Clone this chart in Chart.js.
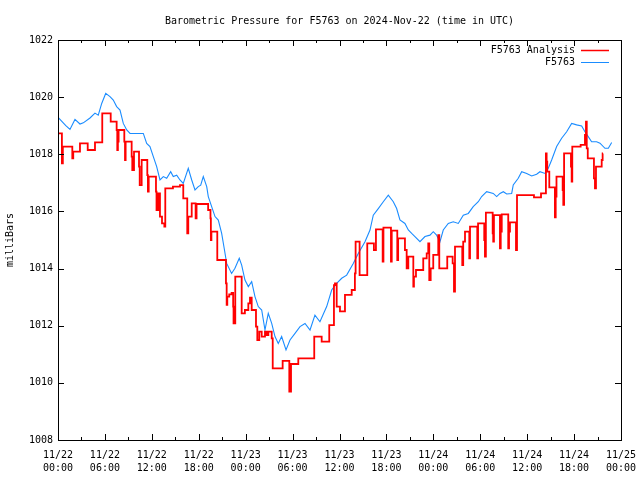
<!DOCTYPE html>
<html><head><meta charset="utf-8">
<script src="https://cdn.jsdelivr.net/npm/chart.js@4/dist/chart.umd.min.js"></script>
<style>html,body{margin:0;padding:0;background:#fff;} #wrap{width:640px;height:480px;}</style>
</head><body><div id="wrap"><canvas id="c" width="640" height="480"></canvas></div>
<script>
// x values are hours since 2024-11-22 00:00 UTC
const tickDates = ['11/22','11/22','11/22','11/22','11/23','11/23','11/23','11/23','11/24','11/24','11/24','11/24','11/25'];
const tickTimes = ['00:00','06:00','12:00','18:00','00:00','06:00','12:00','18:00','00:00','06:00','12:00','18:00','00:00'];
const yTicks = [1008,1010,1012,1014,1016,1018,1020,1022];

const analysisHours = [0,0.5,0.62,1.83,1.95,2.81,3.8,4.73,5.66,6.74,7.5,7.58,7.66,7.75,8.48,8.57,8.65,9.42,9.5,9.72,10.36,10.45,10.7,11.42,11.5,11.6,12.53,12.6,12.83,13.04,13.3,13.6,13.72,14.7,15.6,16.02,16.53,16.66,17.1,17.6,17.72,19.2,19.5,19.55,19.62,20.37,21.48,21.57,21.65,21.9,22.2,22.4,22.45,22.67,23.49,23.9,24.34,24.55,24.77,25.32,25.49,25.74,26.05,26.47,26.69,26.9,27.33,27.46,28.73,29.58,29.8,30.73,32.77,33.72,34.69,35.29,35.42,35.64,36.06,36.7,37.56,37.97,38.06,38.57,39.55,40.4,40.66,41.52,41.62,42.58,42.68,43.39,43.5,44.37,44.59,44.8,45.44,45.52,45.78,46.71,47.15,47.35,47.48,47.66,47.99,48.63,48.76,49.78,50.47,50.64,50.77,51.7,51.82,52.05,52.6,52.69,53.62,53.72,54.51,54.6,54.72,55.59,55.66,55.75,56.52,56.62,56.75,57.58,57.68,57.8,58.57,58.7,60.87,61.77,62.4,62.49,62.57,62.83,63.55,63.65,63.75,64.54,64.62,64.72,65.6,65.69,65.77,66.84,67.39,67.52,67.62,67.75,68.54,68.67,68.8,69.53,69.65,69.7];
const analysisValues = [1018.73,1017.68,1018.27,1017.86,1018.09,1018.38,1018.15,1018.42,1019.43,1019.14,1018.85,1018.15,1018.44,1018.85,1018.44,1017.8,1018.44,1017.92,1017.45,1018.09,1017.57,1016.92,1017.8,1017.27,1016.69,1017.22,1016.69,1016.05,1016.63,1015.82,1015.58,1015.47,1016.81,1016.87,1016.92,1016.46,1015.23,1015.82,1016.28,1015.76,1016.26,1016.05,1015.76,1015.0,1015.29,1014.3,1013.48,1012.73,1013.02,1013.1,1013.15,1012.67,1012.08,1013.72,1012.43,1012.55,1012.78,1012.98,1012.55,1011.97,1011.5,1011.79,1011.62,1011.79,1011.67,1011.79,1011.56,1010.51,1010.77,1009.69,1010.66,1010.86,1011.62,1011.44,1012.02,1013.42,1013.48,1012.67,1012.5,1013.08,1013.25,1013.83,1014.94,1013.77,1014.88,1014.65,1015.37,1014.24,1015.43,1014.24,1015.33,1014.3,1015.06,1014.65,1014.01,1014.42,1013.37,1013.72,1013.95,1014.36,1014.53,1014.88,1013.6,1014.01,1014.48,1015.17,1014.01,1014.42,1014.18,1013.19,1014.77,1014.12,1014.94,1015.29,1014.36,1015.47,1014.36,1015.58,1015.0,1014.42,1015.96,1015.23,1014.94,1015.87,1014.71,1015.29,1015.9,1014.71,1015.29,1015.62,1014.65,1016.57,1016.49,1016.63,1018.03,1017.74,1017.39,1016.84,1015.79,1016.52,1017.22,1016.75,1016.23,1018.03,1017.57,1017.04,1018.27,1018.33,1018.68,1019.14,1018.21,1017.86,1017.16,1016.81,1017.57,1017.8,1018.03,1018.03];

const stationHours = [0,0.13,1.0,1.53,2.17,2.81,3.24,4.09,4.73,5.15,5.59,6.1,6.65,7.07,7.5,7.93,8.35,8.79,9.21,10.91,11.34,11.76,12.19,12.62,13.04,13.47,13.9,14.41,14.74,15.18,15.6,16.02,16.66,17.1,17.52,17.94,18.25,18.58,19.02,19.22,19.65,20.08,20.5,20.93,21.29,21.57,22.2,22.63,23.18,23.49,23.91,24.34,24.77,25.19,25.61,26.05,26.47,26.89,27.33,27.75,28.17,28.6,29.16,29.67,30.31,30.95,31.59,32.23,32.86,33.5,34.36,35.0,35.64,36.28,36.92,37.76,38.4,39.26,39.9,40.32,40.96,41.6,42.24,42.88,43.31,43.73,44.37,44.8,45.23,45.65,46.29,46.93,47.57,47.99,48.42,48.85,49.27,49.91,50.55,51.19,51.83,52.47,53.1,53.75,54.18,54.82,55.66,56.1,56.52,56.95,57.38,58.02,58.22,58.86,59.3,59.94,60.58,61.21,61.64,62.28,62.7,63.13,63.77,64.41,65.05,65.69,66.33,66.97,67.39,67.81,68.24,68.88,69.31,69.95,70.38,70.81];
const stationValues = [1019.3,1019.26,1019.0,1018.87,1019.22,1019.06,1019.1,1019.27,1019.44,1019.37,1019.78,1020.13,1020.02,1019.9,1019.67,1019.55,1019.08,1018.85,1018.73,1018.73,1018.38,1018.27,1017.92,1017.57,1017.1,1017.22,1017.16,1017.39,1017.22,1017.27,1017.1,1016.98,1017.51,1017.1,1016.75,1016.87,1016.92,1017.22,1016.87,1016.52,1016.17,1015.82,1015.7,1015.23,1014.65,1014.18,1013.83,1014.01,1014.36,1014.12,1013.6,1013.37,1013.54,1013.02,1012.67,1012.55,1011.85,1012.43,1012.08,1011.62,1011.38,1011.62,1011.15,1011.5,1011.73,1011.97,1012.08,1011.85,1012.37,1012.14,1012.67,1013.25,1013.48,1013.66,1013.77,1014.18,1014.53,1014.94,1015.35,1015.87,1016.1,1016.34,1016.57,1016.34,1016.1,1015.7,1015.58,1015.35,1015.23,1015.12,1014.94,1015.12,1015.17,1015.29,1015.17,1014.94,1015.35,1015.58,1015.64,1015.58,1015.87,1015.93,1016.17,1016.34,1016.52,1016.69,1016.63,1016.52,1016.63,1016.69,1016.61,1016.63,1016.93,1017.16,1017.39,1017.33,1017.24,1017.3,1017.39,1017.33,1017.51,1017.8,1018.27,1018.56,1018.79,1019.08,1019.03,1018.99,1018.79,1018.62,1018.44,1018.44,1018.39,1018.21,1018.21,1018.41];

const FONT = 'DejaVu Sans Mono';

const framePlugin = {
  id: 'frame',
  afterDatasetsDraw(chart) {
    const {ctx, chartArea: a, scales} = chart;
    ctx.save();
    ctx.strokeStyle = '#000';
    ctx.lineWidth = 1;
    ctx.strokeRect(a.left + 0.5, a.top + 0.5, a.right - a.left, a.bottom - a.top);
    ctx.beginPath();
    for (let h = 0; h <= 72; h += 3) {
      const x = Math.round(scales.x.getPixelForValue(h)) + 0.5;
      const len = (h % 6 === 0) ? 6 : 3;
      ctx.moveTo(x, a.bottom); ctx.lineTo(x, a.bottom - len);
      ctx.moveTo(x, a.top); ctx.lineTo(x, a.top + len);
    }
    yTicks.forEach(v => {
      const y = Math.round(scales.y.getPixelForValue(v)) + 0.5;
      ctx.moveTo(a.left, y); ctx.lineTo(a.left + 6, y);
      ctx.moveTo(a.right, y); ctx.lineTo(a.right - 6, y);
    });
    ctx.stroke();
    // legend
    ctx.font = '10px "' + FONT + '"';
    ctx.textAlign = 'right';
    ctx.textBaseline = 'middle';
    chart.data.datasets.forEach((ds, i) => {
      const y = a.top + 10 + i * 12;
      ctx.fillStyle = '#000';
      ctx.fillText(ds.label, a.right - 46, y);
      ctx.strokeStyle = ds.borderColor;
      ctx.lineWidth = (i === 0) ? 1.5 : 1;
      ctx.beginPath();
      ctx.moveTo(a.right - 40, y + 0.5); ctx.lineTo(a.right - 12, y + 0.5);
      ctx.stroke();
    });
    ctx.restore();
  }
};

new Chart(document.getElementById('c'), {
  type: 'line',
  data: {
    datasets: [
      {
        label: 'F5763 Analysis',
        data: analysisHours.map((h, i) => ({x: h, y: analysisValues[i]})),
        borderColor: '#ff0000',
        borderWidth: 1.8,
        stepped: 'before',
        pointRadius: 0,
        fill: false
      },
      {
        label: 'F5763',
        data: stationHours.map((h, i) => ({x: h, y: stationValues[i]})),
        borderColor: '#1a8cff',
        borderWidth: 1.1,
        pointRadius: 0,
        tension: 0,
        fill: false
      }
    ]
  },
  options: {
    responsive: false,
    devicePixelRatio: 1,
    animation: false,
    layout: {padding: {left: 0, right: 19, top: 0, bottom: 0}},
    plugins: {
      legend: {display: false},
      tooltip: {enabled: false},
      title: {
        display: true,
        text: 'Barometric Pressure for F5763 on 2024-Nov-22 (time in UTC)',
        color: '#000',
        font: {family: FONT, size: 10, weight: 'normal', lineHeight: 1.2},
        padding: {top: 15, bottom: 13},
        fullSize: false
      }
    },
    scales: {
      x: {
        type: 'linear',
        min: 0, max: 72,
        grid: {display: false, drawTicks: false, tickLength: 0},
        border: {display: false},
        afterFit(s) { s.height = 40; s.paddingLeft = 0; s.paddingRight = 0; },
        ticks: {
          stepSize: 6,
          autoSkip: false,
          maxRotation: 0,
          padding: 9,
          color: '#000',
          font: {family: FONT, size: 10, lineHeight: 1.3},
          callback(v) { const i = Math.round(v / 6); return [tickDates[i], tickTimes[i]]; }
        }
      },
      y: {
        min: 1008, max: 1022,
        grid: {display: false, drawTicks: false, tickLength: 0},
        border: {display: false},
        afterFit(s) { s.width = 58; s.paddingTop = 0; s.paddingBottom = 0; },
        title: {
          display: true,
          text: 'milliBars',
          color: '#000',
          font: {family: FONT, size: 10, lineHeight: 1.2},
          padding: {top: 4, bottom: 0}
        },
        ticks: {
          stepSize: 2,
          padding: 5,
          color: '#000',
          font: {family: FONT, size: 10},
          callback(v) { return String(v); }
        }
      }
    }
  },
  plugins: [framePlugin]
});
</script></body></html>
